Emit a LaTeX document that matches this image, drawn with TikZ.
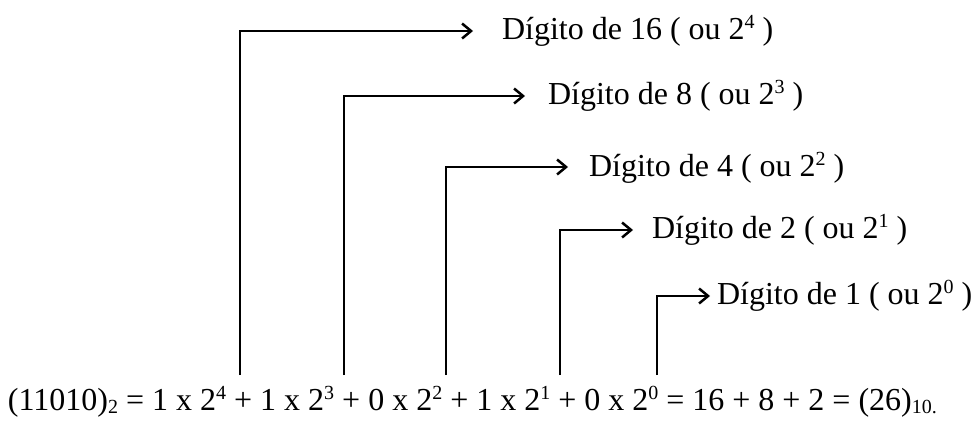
\documentclass[tikz,border=0pt]{standalone}
\usepackage{fontspec}
\setmainfont{Liberation Serif}
\usetikzlibrary{arrows.meta}
\newcommand\mysup[1]{\raisebox{0.34em}{\fontsize{20}{20}\selectfont #1}}
\newcommand\mysub[1]{\raisebox{-0.12em}{\fontsize{20}{20}\selectfont #1}}
\begin{document}
\begin{tikzpicture}[x=1pt,y=-1pt,
  lbl/.style={anchor=base west,inner sep=0pt,outer sep=0pt,font=\fontsize{32}{38}\selectfont},
  conn/.style={line width=2.7pt,-{Straight Barb[length=9pt,width=15pt,line width=2.5pt]}}]
\useasboundingbox (0,0) rectangle (976,437);
% labels
\node[lbl] (t1) at (502,39) {Dígito de 16 ( ou 2\mysup{4} )};
\node[lbl] (t2) at (548,104) {Dígito de 8 ( ou 2\mysup{3} )};
\node[lbl] (t3) at (589,176) {Dígito de 4 ( ou 2\mysup{2} )};
\node[lbl] (t4) at (652,238) {Dígito de 2 ( ou 2\mysup{1} )};
\node[lbl] (t5) at (717,304) {Dígito de 1 ( ou 2\mysup{0} )};
\node[lbl] (eq) at (8,410) {(11010)\mysub{2} = 1 x 2\mysup{4} + 1 x 2\mysup{3} + 0 x 2\mysup{2} + 1 x 2\mysup{1} + 0 x 2\mysup{0} = 16 + 8 + 2 = (26)\mysub{10.}};
% coordinates
\coordinate (b1) at (240,375); \coordinate (e1) at (473,31);
\coordinate (b2) at (344,375); \coordinate (e2) at (525,96);
\coordinate (b3) at (446,375); \coordinate (e3) at (568,167);
\coordinate (b4) at (560,375); \coordinate (e4) at (633,230);
\coordinate (b5) at (657,375); \coordinate (e5) at (710,296);
\foreach \i in {1,...,5}{
  \draw[conn] (b\i) |- (e\i);
}
\end{tikzpicture}
\end{document}
